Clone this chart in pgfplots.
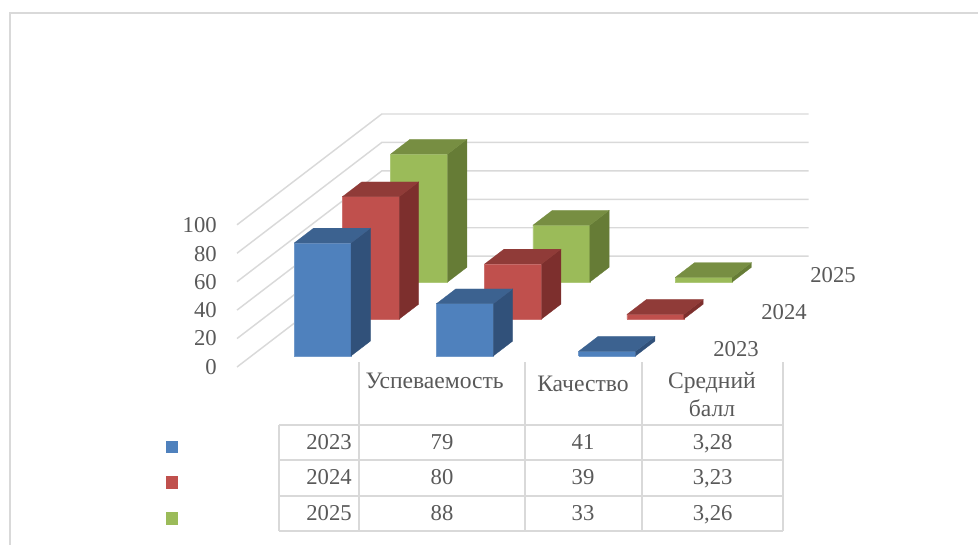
\documentclass[border=0pt]{standalone}
\usepackage{fontspec}
\setmainfont{Liberation Serif}
\usepackage{pgfplots}
\pgfplotsset{compat=1.18}
\definecolor{txt}{HTML}{595959}
\definecolor{gridc}{HTML}{D9D9D9}
\definecolor{bF}{HTML}{4F81BD}\definecolor{bS}{HTML}{31517A}\definecolor{bT}{HTML}{3C6290}
\definecolor{rF}{HTML}{C0504D}\definecolor{rS}{HTML}{7D2F2D}\definecolor{rT}{HTML}{903B38}
\definecolor{gF}{HTML}{9BBB59}\definecolor{gS}{HTML}{667C36}\definecolor{gT}{HTML}{778E42}
% x0 x1 y0 y1 value front side top
\newcommand{\cub}[8]{%
  \addplot3[fill=#6,draw=#6!80!white,line width=0.5pt,mark=none] coordinates {(#1,#3,0)(#2,#3,0)(#2,#3,#5)(#1,#3,#5)(#1,#3,0)};
  \addplot3[fill=#7,draw=#7,line width=0.2pt,mark=none] coordinates {(#2,#3,0)(#2,#4,0)(#2,#4,#5)(#2,#3,#5)(#2,#3,0)};
  \addplot3[fill=#8,draw=#8,line width=0.2pt,mark=none] coordinates {(#1,#3,#5)(#2,#3,#5)(#2,#4,#5)(#1,#4,#5)(#1,#3,#5)};
}
\newcommand{\gl}[1]{\addplot3[gridc,line width=1.1pt,mark=none] coordinates {(0,0,#1)(0,3,#1)(3,3,#1)};}
\newcommand{\T}[3]{\node[anchor=base,inner sep=0pt,text=txt,font=\fontsize{17}{20}\selectfont] at (#1,#2+7.6) {#3};}
\newcommand{\W}[3]{\node[anchor=base,inner sep=0pt,text=txt,font=\fontsize{17.7}{20}\selectfont] at (#1,#2+7.6) {#3};}
\begin{document}
\begin{tikzpicture}[x=0.75pt,y=-0.75pt]
\useasboundingbox (0,0) rectangle (978,545);
\draw[gridc,line width=1.1pt] (10,545)--(10,13)--(978,13);
\begin{scope}[shift={(237,367)}]
\begin{axis}[
  at={(0,0)},anchor=origin,disabledatascaling,
  x={(106.7pt,0pt)},y={(36.2pt,27.7pt)},z={(0pt,1.0665pt)},
  xmin=0,xmax=3,ymin=0,ymax=3,zmin=0,zmax=100,
  hide axis,clip=false]
\gl{0}\gl{20}\gl{40}\gl{60}\gl{80}\gl{100}
\cub{0.3}{0.7}{2.3}{2.7}{90}{gF}{gS}{gT}
\cub{1.3}{1.7}{2.3}{2.7}{40}{gF}{gS}{gT}
\cub{2.3}{2.7}{2.3}{2.7}{3.26}{gF}{gS}{gT}
\cub{0.3}{0.7}{1.3}{1.7}{86}{rF}{rS}{rT}
\cub{1.3}{1.7}{1.3}{1.7}{38.7}{rF}{rS}{rT}
\cub{2.3}{2.7}{1.3}{1.7}{3.23}{rF}{rS}{rT}
\cub{0.3}{0.7}{0.3}{0.7}{79.4}{bF}{bS}{bT}
\cub{1.3}{1.7}{0.3}{0.7}{36.7}{bF}{bS}{bT}
\cub{2.3}{2.7}{0.3}{0.7}{3.28}{bF}{bS}{bT}
\end{axis}
\end{scope}
% tick labels
\foreach \v/\y in {100/225,80/254,60/282,40/310,20/338,0/367}{
  \node[anchor=base east,inner sep=0pt,text=txt,font=\fontsize{17}{20}\selectfont] at (217,\y+7.6) {\v};}
\T{833}{275}{2025}\T{784}{312}{2024}\T{736}{349}{2023}
% table
\draw[gridc,line width=1.4pt] (279,425)--(783,425) (279,460)--(783,460) (279,495.7)--(783,495.7) (279,530.7)--(783,530.7);
\draw[gridc,line width=1.4pt] (279,425)--(279,530.7) (359,362)--(359,530.7) (525,362)--(525,530.7) (642,362)--(642,530.7) (783,362)--(783,530.7);
\W{434.7}{381}{Успеваемость}\W{583}{384}{Качество}\W{712}{381}{Средний}\W{712}{409}{балл}
\T{329}{441.7}{2023}\T{442}{441.7}{79}\T{583}{441.7}{41}\T{712.7}{441.7}{3,28}
\T{329}{477}{2024}\T{442}{477}{80}\T{583}{477}{39}\T{712.7}{477}{3,23}
\T{329}{513}{2025}\T{442}{513}{88}\T{583}{513}{33}\T{712.7}{513}{3,26}
% legend keys
\fill[bF] (166,441) rectangle (178,453);
\fill[rF] (166,476) rectangle (178,489);
\fill[gF] (166,512) rectangle (178,525);
\end{tikzpicture}
\end{document}
